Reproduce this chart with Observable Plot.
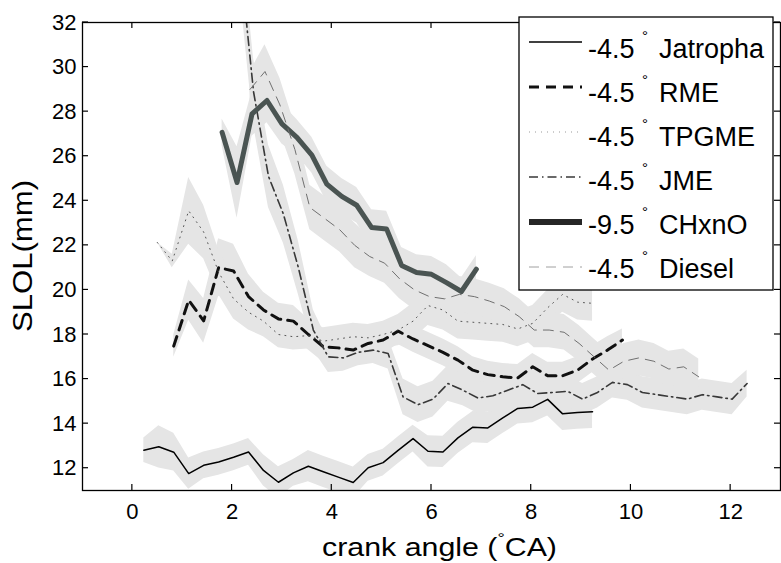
<!DOCTYPE html>
<html><head><meta charset="utf-8">
<script src="https://cdn.jsdelivr.net/npm/d3@7"></script>
<script src="https://cdn.jsdelivr.net/npm/@observablehq/plot@0.6"></script>
<style>body{margin:0;background:#fff;} #chart{width:781px;height:563px;}</style>
</head><body><div id="chart"></div>
<script>
// ---- data ----
const xTicks = [0, 2, 4, 6, 8, 10, 12];
const yTicks = [12, 14, 16, 18, 20, 22, 24, 26, 28, 30, 32];

const seriesNames = ["Jatropha", "RME", "TPGME", "JME", "CHxnO", "Diesel"];
const seriesTiming = ["-4.5", "-4.5", "-4.5", "-4.5", "-9.5", "-4.5"];

const jatX = [0.23,0.53,0.83,1.13,1.43,1.73,2.03,2.33,2.63,2.93,3.23,3.53,3.83,4.13,4.43,4.73,5.03,5.33,5.63,5.93,6.23,6.53,6.83,7.13,7.43,7.73,8.03,8.33,8.63,8.93,9.23];
const jatY = [12.81,12.96,12.72,11.76,12.13,12.28,12.49,12.73,11.9,11.37,11.79,12.09,11.84,11.6,11.36,12.02,12.25,12.8,13.33,12.76,12.73,13.36,13.84,13.81,14.26,14.68,14.74,15.09,14.44,14.5,14.53];
const jatB = [0.55,0.95,0.85,0.7,0.6,0.6,0.6,0.6,0.7,0.7,0.6,0.7,0.7,0.7,0.7,0.6,0.6,0.6,0.6,0.7,0.7,0.7,0.7,0.7,0.7,0.7,0.7,0.75,0.75,0.75,0.75];

const rmeX = [0.83,1.13,1.43,1.73,2.03,2.33,2.63,2.93,3.23,3.53,3.83,4.13,4.43,4.73,5.03,5.33,5.63,5.93,6.23,6.53,6.83,7.13,7.43,7.73,8.03,8.33,8.63,8.93,9.23,9.53,9.83];
const rmeY = [17.48,19.54,18.61,21.0,20.85,19.7,19.1,18.7,18.6,18.0,17.45,17.4,17.3,17.6,17.75,18.15,17.8,17.5,17.2,16.85,16.4,16.2,16.1,16.05,16.55,16.15,16.15,16.4,16.9,17.3,17.75];
const rmeB = [0.5,0.9,1.0,1.3,1.2,1.0,0.8,0.7,0.7,0.7,0.7,0.6,0.6,0.6,0.6,0.6,0.6,0.6,0.6,0.6,0.6,0.6,0.6,0.6,0.6,0.6,0.6,0.6,0.6,0.6,0.5];

const tpgX = [0.5,0.8,1.13,1.43,1.73,2.03,2.33,2.63,2.93,3.23,3.53,3.83,4.13,4.43,4.73,5.03,5.33,5.63,5.93,6.23,6.53,6.83,7.13,7.43,7.73,8.03,8.33,8.63,8.93,9.23];
const tpgY = [22.13,21.3,23.55,22.6,20.8,19.6,19.0,18.6,18.0,17.9,17.95,17.7,17.8,17.9,17.85,18.0,18.2,18.6,19.3,19.1,18.6,18.55,18.5,18.45,18.25,18.5,19.2,19.8,19.45,19.4];
const tpgB = [0,0.3,1.5,1.2,1.0,0.9,0.8,0.7,0.6,0.6,0.6,0.6,0.6,0.6,0.6,0.6,0.7,0.8,0.9,0.9,0.8,0.8,0.8,0.8,0.8,0.8,0.8,0.8,0.8,0.8];

const jmeX = [2.13,2.43,2.73,3.03,3.33,3.63,3.93,4.23,4.53,4.83,5.13,5.43,5.73,6.03,6.33,6.63,6.93,7.23,7.53,7.83,8.13,8.43,8.73,9.03,9.33,9.63,9.93,10.23,10.53,10.83,11.13,11.43,11.73,12.03,12.33];
const jmeY = [35.5,28.9,25.1,23.4,21.0,18.2,17.0,16.95,17.2,17.3,17.15,15.2,14.85,15.1,15.8,15.5,15.15,15.25,15.5,15.75,15.35,15.4,15.45,15.1,15.4,15.85,15.75,15.4,15.3,15.2,15.1,15.3,15.2,15.1,15.8];
const jmeB = [1.5,1.5,1.4,1.3,1.2,0.9,0.7,0.6,0.6,0.6,0.7,0.8,0.8,0.8,0.8,0.7,0.7,0.7,0.7,0.7,0.7,0.7,0.7,0.7,0.7,0.7,0.7,0.7,0.7,0.7,0.7,0.7,0.7,0.7,0.6];

const chxX = [1.8,2.1,2.4,2.7,3.0,3.3,3.6,3.9,4.2,4.5,4.8,5.1,5.4,5.7,6.0,6.3,6.6,6.9];
const chxY = [27.07,24.82,27.9,28.5,27.45,26.85,26.05,24.75,24.2,23.8,22.8,22.73,21.1,20.78,20.7,20.33,19.93,20.93];
const chxB = [0.6,1.6,1.0,1.0,0.9,0.8,0.8,0.8,0.8,0.8,0.8,0.8,0.8,0.8,0.8,0.8,0.6,0.6];

const dslX = [2.36,2.66,2.96,3.26,3.56,3.86,4.16,4.46,4.76,5.06,5.36,5.66,5.96,6.26,6.56,6.86,7.16,7.46,7.76,8.06,8.36,8.66,8.96,9.26,9.56,9.86,10.16,10.46,10.76,11.06,11.36];
const dslY = [29.0,29.8,28.3,26.3,23.7,23.2,22.7,22.0,21.5,21.2,20.5,20.0,19.7,19.6,19.8,19.7,19.5,19.25,18.8,18.2,18.2,18.1,17.6,17.0,16.4,16.8,16.95,16.8,16.45,16.55,16.1];
const dslB = [0.8,1.2,1.2,1.1,1.0,1.0,1.0,1.0,0.9,0.9,0.9,0.9,0.9,0.8,0.8,0.8,0.8,0.8,0.8,0.8,0.8,0.8,0.8,0.8,0.8,0.8,0.8,0.8,0.8,0.8,0.8];

// ---- styles ----
const FONT = "'Liberation Sans', Arial, Helvetica, sans-serif";
const series = [
  {x: jatX, y: jatY, b: jatB, color: "#000", legendColor: "#000", width: 1.5, dash: null},
  {x: rmeX, y: rmeY, b: rmeB, color: "#111", legendColor: "#111", width: 3, dash: "10,7"},
  {x: tpgX, y: tpgY, b: tpgB, color: "#555", legendColor: "#999", width: 1, dash: "1,5"},
  {x: jmeX, y: jmeY, b: jmeB, color: "#383838", legendColor: "#383838", width: 1.6, dash: "9,4,1.5,4"},
  {x: chxX, y: chxY, b: chxB, color: "#4a5452", legendColor: "#262626", width: 5, dash: null},
  {x: dslX, y: dslY, b: dslB, color: "#707070", legendColor: "#a0a0a0", width: 1, dash: "10,7"}
];
series.forEach((s, i) => { s.name = seriesNames[i]; s.timing = seriesTiming[i]; });
const rows = s => s.x.map((x, i) => ({x, y: s.y[i], lo: s.y[i] - s.b[i], hi: s.y[i] + s.b[i]}));

const M = {left: 82, right: 1, top: 22, bottom: 73, width: 781, height: 563};

const plot = Plot.plot({
  width: M.width, height: M.height,
  marginLeft: M.left, marginRight: M.right, marginTop: M.top, marginBottom: M.bottom,
  style: {fontFamily: FONT, fontSize: "22px", background: "#fff", color: "#000", overflow: "visible"},
  x: {domain: [-1, 13], label: null},
  y: {domain: [11, 32], label: null},
  marks: [
    ...series.map(s => Plot.areaY(rows(s), {x: "x", y1: "lo", y2: "hi", fill: "#e5e5e5", clip: true})),
    ...series.map(s => Plot.line(rows(s), {x: "x", y: "y", stroke: s.color, strokeWidth: s.width, strokeDasharray: s.dash, clip: true})),
    Plot.frame({stroke: "#000", strokeWidth: 1.3}),
    Plot.axisX(xTicks, {anchor: "bottom", tickSize: 0, tickPadding: 13, fontSize: 22, label: null}),
    Plot.axisY(yTicks, {anchor: "left", tickSize: 0, tickPadding: 6, fontSize: 22, label: null})
  ]
});
document.getElementById("chart").appendChild(plot);

// ---- inward ticks on all four sides (positions from Plot's own scales) ----
const svg = d3.select(plot);
const sx = plot.scale("x"), sy = plot.scale("y");
const x0 = M.left, x1 = M.width - M.right, y0 = M.top, y1 = M.height - M.bottom;
const tk = svg.append("g").attr("stroke", "#000").attr("stroke-width", 1.2);
xTicks.forEach(t => {
  const px = sx.apply(t);
  tk.append("line").attr("x1", px).attr("x2", px).attr("y1", y1).attr("y2", y1 - 6);
  tk.append("line").attr("x1", px).attr("x2", px).attr("y1", y0).attr("y2", y0 + 6);
});
yTicks.forEach(t => {
  const py = sy.apply(t);
  tk.append("line").attr("x1", x0).attr("x2", x0 + 6).attr("y1", py).attr("y2", py);
  tk.append("line").attr("x1", x1).attr("x2", x1 - 6).attr("y1", py).attr("y2", py);
});

// ---- axis titles ----
const xl = svg.append("text").attr("x", 322).attr("y", 556).attr("text-anchor", "start")
  .attr("textLength", 235).attr("lengthAdjust", "spacingAndGlyphs")
  .style("font-size", "25px").style("font-family", FONT).attr("fill", "#000");
xl.append("tspan").text("crank angle (");
xl.append("tspan").attr("dy", -13).style("font-size", "15px").text("°");
xl.append("tspan").attr("dy", 13).text("CA)");

svg.append("text").attr("transform", "translate(32,332) rotate(-90)").attr("text-anchor", "start")
  .attr("textLength", 152).attr("lengthAdjust", "spacingAndGlyphs")
  .style("font-size", "28px").style("font-family", FONT).attr("fill", "#000")
  .text("SLOL(mm)");

// ---- legend ----
const lg = svg.append("g").attr("text-anchor", "start");
lg.append("rect").attr("x", 519).attr("y", 17).attr("width", 254).attr("height", 273)
  .attr("fill", "#fff").attr("stroke", "#000").attr("stroke-width", 1.3);
series.forEach((s, i) => {
  const ly = 42 + 45 * i;
  lg.append("line").attr("x1", 529).attr("x2", 582).attr("y1", ly).attr("y2", ly)
    .attr("stroke", s.legendColor).attr("stroke-width", s.name === "CHxnO" ? 6 : s.width)
    .attr("stroke-dasharray", s.dash);
  const by = 58 + 44 * i;
  lg.append("text").attr("x", 588).attr("y", by).attr("text-anchor", "start")
    .style("font-size", "27px").style("font-family", FONT).attr("fill", "#000").text(s.timing);
  lg.append("text").attr("x", 642).attr("y", by - 17).attr("text-anchor", "start")
    .style("font-size", "15px").style("font-family", FONT).attr("fill", "#000").text("°");
  lg.append("text").attr("x", 659).attr("y", by).attr("text-anchor", "start")
    .style("font-size", "27px").style("font-family", FONT).attr("fill", "#000").text(s.name);
});
</script>
</body></html>
